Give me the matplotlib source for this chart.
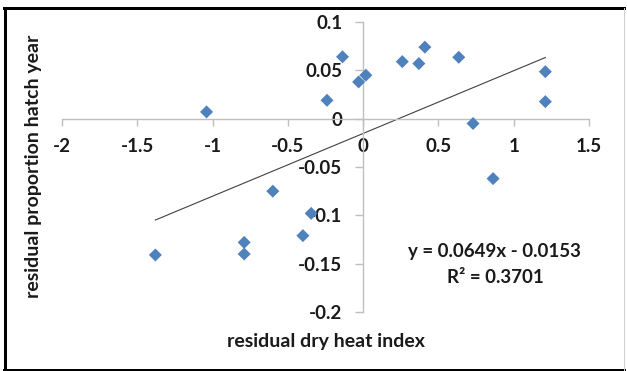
import numpy as np
import matplotlib.pyplot as plt
from matplotlib.lines import Line2D

# residuals from the two regressions
dry_heat = [-1.38, -1.04, -0.79, -0.79, -0.60, -0.40, -0.345, -0.24, -0.137, -0.03,
            0.018, 0.26, 0.37, 0.41, 0.635, 0.73, 0.863, 1.21, 1.21]
hatch_year = [-0.141, 0.007, -0.128, -0.140, -0.075, -0.121, -0.098, 0.019, 0.064, 0.038,
              0.045, 0.059, 0.057, 0.074, 0.0635, -0.005, -0.062, 0.0486, 0.0176]

slope = 0.0649
intercept = -0.0153
r_squared = 0.3701

x_ticks = [-2, -1.5, -1, -0.5, 0, 0.5, 1, 1.5]
y_ticks = [-0.2, -0.15, -0.1, -0.05, 0, 0.05, 0.1]

plt.rcParams['font.family'] = ['Lato', 'DejaVu Sans']
plt.rcParams['font.weight'] = 'bold'

TXT = '#1a1a1a'
FS = 13.5

fig = plt.figure(figsize=(6.27, 3.71), dpi=100)
ax = fig.add_axes([62 / 627, 1 - 312 / 371, 527 / 627, 290 / 371])

ax.set_xlim(-2, 1.5)
ax.set_ylim(-0.2, 0.1)

# axes cross at the origin, like a spreadsheet chart
for side in ['top', 'right']:
    ax.spines[side].set_visible(False)
ax.spines['left'].set_position(('data', 0))
ax.spines['bottom'].set_position(('data', 0))
for side in ['left', 'bottom']:
    ax.spines[side].set_color('#bfbfbf')
    ax.spines[side].set_linewidth(1.0)

ax.set_xticks(x_ticks)
ax.set_yticks(y_ticks)
ax.set_xticklabels([f'{v:g}' for v in x_ticks])
ax.set_yticklabels([f'{v:g}' for v in y_ticks])
ax.tick_params(axis='x', direction='out', length=5, width=1, color='#bfbfbf',
               pad=9, labelsize=FS)
ax.tick_params(axis='y', direction='out', length=6, width=1, color='#bfbfbf',
               pad=9, labelsize=FS)
for lbl in ax.get_xticklabels() + ax.get_yticklabels():
    lbl.set_fontweight('bold')
    lbl.set_color(TXT)

# linear trendline over the range of the data
xs = np.array([min(dry_heat), max(dry_heat)])
ax.plot(xs, slope * xs + intercept, color='#404040', linewidth=0.8, zorder=2)

ax.scatter(dry_heat, hatch_year, marker='D', s=44, color='#4f81bd',
           edgecolors='none', zorder=3, clip_on=False)

ax.text(0.875, -0.1375, f'y = {slope}x - {abs(intercept)}', ha='center', va='center',
        fontsize=FS, fontweight='bold', color=TXT)
ax.text(0.875, -0.1645, f'R² = {r_squared}', ha='center', va='center',
        fontsize=FS, fontweight='bold', color=TXT)

fig.text(326 / 627, 1 - 341 / 371, 'residual dry heat index', ha='center', va='center',
         fontsize=14, fontweight='bold', color=TXT)
fig.text(34 / 627, 1 - 166 / 371, 'residual proportion hatch year', ha='center',
         va='center', rotation=90, fontsize=14, fontweight='bold', color=TXT)

# frame around the whole figure
def px(x, y):
    return x / 627, 1 - y / 371

for (x0, y0), (x1, y1), c, w in [
    (px(5, 7.5), px(5, 369.5), 'black', 3.0),
    (px(3.5, 7.5), px(624, 7.5), 'black', 3.0),
    (px(3.5, 369.5), px(624, 369.5), 'black', 3.0),
    (px(623.5, 7.5), px(623.5, 369.5), '#d0d0d0', 1.0),
]:
    fig.add_artist(Line2D([x0, x1], [y0, y1], color=c, linewidth=w * 0.72,
                          transform=fig.transFigure))

fig.savefig('out.png', dpi=100)
